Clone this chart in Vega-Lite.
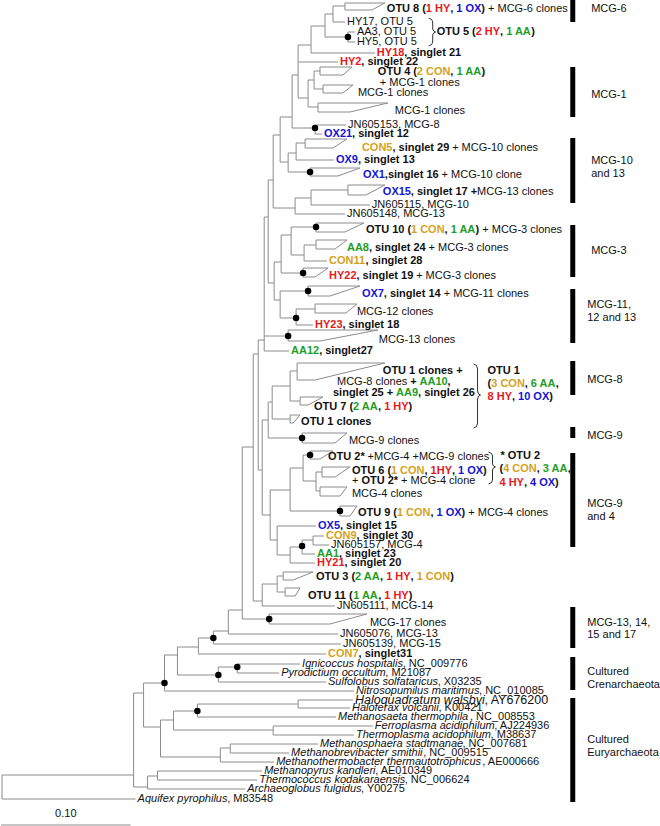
{
"$schema":"https://vega.github.io/schema/vega-lite/v6.json",
"width":660,"height":826,"padding":0,
"autosize":{"type":"fit","contains":"padding"},
"config":{"view":{"stroke":null}},
"datasets":{
"seg":[
{"x":333,"x2":333,"y":6,"y2":22},{"x":348,"x2":348,"y":32,"y2":42},{"x":325,"x2":325,"y":14,"y2":37},{"x":311,"x2":311,"y":26,"y2":53},{"x":298,"x2":298,"y":45,"y2":98},{"x":314,"x2":314,"y":71,"y2":89},{"x":308,"x2":308,"y":80,"y2":107},{"x":292,"x2":292,"y":75,"y2":128},{"x":315,"x2":315,"y":125,"y2":134},{"x":280,"x2":280,"y":117,"y2":162},{"x":296,"x2":296,"y":143,"y2":160},{"x":288,"x2":288,"y":153,"y2":172},{"x":311,"x2":311,"y":190,"y2":205},{"x":295,"x2":295,"y":198,"y2":214},{"x":273,"x2":273,"y":135,"y2":208},{"x":291,"x2":291,"y":227,"y2":255},{"x":304,"x2":304,"y":245,"y2":261},{"x":281,"x2":281,"y":235,"y2":273},{"x":280,"x2":280,"y":291,"y2":318},{"x":296,"x2":296,"y":309,"y2":325},{"x":274,"x2":274,"y":262,"y2":300},{"x":268,"x2":268,"y":180,"y2":283},{"x":264,"x2":264,"y":217,"y2":351},{"x":290,"x2":290,"y":371,"y2":401},{"x":272,"x2":272,"y":386,"y2":419},{"x":268,"x2":268,"y":402,"y2":438},{"x":316,"x2":316,"y":472,"y2":491},{"x":303,"x2":303,"y":455,"y2":481},{"x":290,"x2":290,"y":468,"y2":511},{"x":313,"x2":313,"y":536,"y2":545},{"x":302,"x2":302,"y":540,"y2":554},{"x":290,"x2":290,"y":547,"y2":563},{"x":277,"x2":277,"y":526,"y2":555},{"x":270,"x2":270,"y":490,"y2":540},{"x":262,"x2":262,"y":420,"y2":515},{"x":258,"x2":258,"y":340,"y2":470},{"x":277,"x2":277,"y":576,"y2":592},{"x":262,"x2":262,"y":584,"y2":606},{"x":253,"x2":253,"y":354,"y2":601},{"x":242,"x2":242,"y":447,"y2":619},{"x":228,"x2":228,"y":610,"y2":634},{"x":213,"x2":213,"y":631,"y2":644},{"x":198,"x2":198,"y":638,"y2":654},{"x":177,"x2":177,"y":647,"y2":675},{"x":218,"x2":218,"y":667,"y2":682},{"x":237,"x2":237,"y":664,"y2":673},{"x":164,"x2":164,"y":655,"y2":691},{"x":143,"x2":143,"y":683,"y2":727},{"x":160,"x2":160,"y":720,"y2":757},{"x":173,"x2":173,"y":711,"y2":730},{"x":197,"x2":197,"y":704,"y2":717},{"x":298,"x2":298,"y":700,"y2":708},{"x":273,"x2":273,"y":726,"y2":735},{"x":220,"x2":220,"y":748,"y2":762},{"x":230,"x2":230,"y":744,"y2":753},{"x":133,"x2":133,"y":693,"y2":787},{"x":147,"x2":147,"y":776,"y2":789},{"x":157,"x2":157,"y":771,"y2":780},{"x":1,"x2":1,"y":775,"y2":799},
{"x":333,"x2":345,"y":6,"y2":6},{"x":333,"x2":345,"y":22,"y2":22},{"x":348,"x2":355,"y":32,"y2":32},{"x":348,"x2":355,"y":42,"y2":42},{"x":325,"x2":333,"y":14,"y2":14},{"x":325,"x2":348,"y":37,"y2":37},{"x":311,"x2":325,"y":26,"y2":26},{"x":311,"x2":375,"y":53,"y2":53},{"x":298,"x2":311,"y":45,"y2":45},{"x":298,"x2":338,"y":62,"y2":62},{"x":298,"x2":308,"y":98,"y2":98},{"x":314,"x2":320,"y":71,"y2":71},{"x":314,"x2":323,"y":89,"y2":89},{"x":308,"x2":314,"y":80,"y2":80},{"x":308,"x2":318,"y":107,"y2":107},{"x":292,"x2":298,"y":75,"y2":75},{"x":292,"x2":315,"y":128,"y2":128},{"x":315,"x2":346,"y":125,"y2":125},{"x":315,"x2":322,"y":134,"y2":134},{"x":280,"x2":292,"y":117,"y2":117},{"x":280,"x2":288,"y":162,"y2":162},{"x":296,"x2":305,"y":143,"y2":143},{"x":296,"x2":334,"y":160,"y2":160},{"x":288,"x2":296,"y":153,"y2":153},{"x":288,"x2":310,"y":172,"y2":172},{"x":311,"x2":348,"y":190,"y2":190},{"x":311,"x2":370,"y":205,"y2":205},{"x":295,"x2":311,"y":198,"y2":198},{"x":295,"x2":345,"y":214,"y2":214},{"x":273,"x2":280,"y":135,"y2":135},{"x":273,"x2":295,"y":208,"y2":208},{"x":291,"x2":316,"y":227,"y2":227},{"x":291,"x2":304,"y":255,"y2":255},{"x":304,"x2":316,"y":245,"y2":245},{"x":304,"x2":327,"y":261,"y2":261},{"x":281,"x2":291,"y":235,"y2":235},{"x":281,"x2":303,"y":273,"y2":273},{"x":280,"x2":308,"y":291,"y2":291},{"x":280,"x2":296,"y":318,"y2":318},{"x":296,"x2":315,"y":309,"y2":309},{"x":296,"x2":313,"y":325,"y2":325},{"x":274,"x2":281,"y":262,"y2":262},{"x":274,"x2":280,"y":300,"y2":300},{"x":268,"x2":273,"y":180,"y2":180},{"x":268,"x2":274,"y":283,"y2":283},{"x":264,"x2":268,"y":217,"y2":217},{"x":264,"x2":288,"y":336,"y2":336},{"x":264,"x2":289,"y":351,"y2":351},{"x":290,"x2":297,"y":371,"y2":371},{"x":290,"x2":300,"y":401,"y2":401},{"x":272,"x2":290,"y":386,"y2":386},{"x":272,"x2":290,"y":419,"y2":419},{"x":268,"x2":272,"y":402,"y2":402},{"x":268,"x2":302,"y":438,"y2":438},{"x":316,"x2":322,"y":472,"y2":472},{"x":316,"x2":320,"y":491,"y2":491},{"x":303,"x2":310,"y":455,"y2":455},{"x":303,"x2":316,"y":481,"y2":481},{"x":290,"x2":303,"y":468,"y2":468},{"x":290,"x2":340,"y":511,"y2":511},{"x":313,"x2":324,"y":536,"y2":536},{"x":313,"x2":329,"y":545,"y2":545},{"x":302,"x2":313,"y":540,"y2":540},{"x":302,"x2":315,"y":554,"y2":554},{"x":290,"x2":302,"y":547,"y2":547},{"x":290,"x2":315,"y":563,"y2":563},{"x":277,"x2":316,"y":526,"y2":526},{"x":277,"x2":290,"y":555,"y2":555},{"x":270,"x2":290,"y":490,"y2":490},{"x":270,"x2":277,"y":540,"y2":540},{"x":262,"x2":268,"y":420,"y2":420},{"x":262,"x2":270,"y":515,"y2":515},{"x":258,"x2":264,"y":340,"y2":340},{"x":258,"x2":262,"y":470,"y2":470},{"x":277,"x2":283,"y":576,"y2":576},{"x":277,"x2":285,"y":592,"y2":592},{"x":262,"x2":277,"y":584,"y2":584},{"x":262,"x2":335,"y":606,"y2":606},{"x":253,"x2":258,"y":354,"y2":354},{"x":253,"x2":262,"y":601,"y2":601},{"x":242,"x2":253,"y":447,"y2":447},{"x":242,"x2":269,"y":619,"y2":619},{"x":228,"x2":242,"y":610,"y2":610},{"x":228,"x2":338,"y":634,"y2":634},{"x":213,"x2":228,"y":631,"y2":631},{"x":213,"x2":341,"y":644,"y2":644},{"x":198,"x2":213,"y":638,"y2":638},{"x":198,"x2":326,"y":654,"y2":654},{"x":177,"x2":198,"y":647,"y2":647},{"x":177,"x2":218,"y":675,"y2":675},{"x":218,"x2":237,"y":667,"y2":667},{"x":218,"x2":326,"y":682,"y2":682},{"x":237,"x2":300,"y":664,"y2":664},{"x":237,"x2":279,"y":673,"y2":673},{"x":164,"x2":177,"y":655,"y2":655},{"x":164,"x2":354,"y":691,"y2":691},{"x":143,"x2":164,"y":683,"y2":683},{"x":143,"x2":160,"y":727,"y2":727},{"x":160,"x2":173,"y":720,"y2":720},{"x":160,"x2":220,"y":757,"y2":757},{"x":173,"x2":197,"y":711,"y2":711},{"x":173,"x2":273,"y":730,"y2":730},{"x":197,"x2":298,"y":704,"y2":704},{"x":197,"x2":336,"y":717,"y2":717},{"x":298,"x2":353,"y":700,"y2":700},{"x":298,"x2":350,"y":708,"y2":708},{"x":273,"x2":373,"y":726,"y2":726},{"x":273,"x2":354,"y":735,"y2":735},{"x":220,"x2":230,"y":748,"y2":748},{"x":220,"x2":274,"y":762,"y2":762},{"x":230,"x2":318,"y":744,"y2":744},{"x":230,"x2":289,"y":753,"y2":753},{"x":133,"x2":143,"y":693,"y2":693},{"x":133,"x2":147,"y":787,"y2":787},{"x":147,"x2":157,"y":776,"y2":776},{"x":147,"x2":245,"y":789,"y2":789},{"x":157,"x2":262,"y":771,"y2":771},{"x":157,"x2":257,"y":780,"y2":780},{"x":1,"x2":133,"y":775,"y2":775},{"x":1,"x2":135,"y":799,"y2":799}
],
"tri":[
{"id":"otu8","o":0,"x":345,"y":3},{"id":"otu8","o":1,"x":385,"y":3},{"id":"otu8","o":2,"x":372,"y":10},{"id":"otu8","o":3,"x":345,"y":10},{"id":"otu8","o":4,"x":345,"y":3},
{"id":"otu4","o":0,"x":320,"y":67},{"id":"otu4","o":1,"x":352,"y":67},{"id":"otu4","o":2,"x":343,"y":75},{"id":"otu4","o":3,"x":320,"y":75},{"id":"otu4","o":4,"x":320,"y":67},
{"id":"m1a","o":0,"x":323,"y":85},{"id":"m1a","o":1,"x":353,"y":85},{"id":"m1a","o":2,"x":343,"y":93},{"id":"m1a","o":3,"x":323,"y":93},{"id":"m1a","o":4,"x":323,"y":85},
{"id":"m1b","o":0,"x":318,"y":103},{"id":"m1b","o":1,"x":388,"y":103},{"id":"m1b","o":2,"x":350,"y":112},{"id":"m1b","o":3,"x":318,"y":112},{"id":"m1b","o":4,"x":318,"y":103},
{"id":"con5","o":0,"x":305,"y":139},{"id":"con5","o":1,"x":347,"y":139},{"id":"con5","o":2,"x":333,"y":148},{"id":"con5","o":3,"x":305,"y":148},{"id":"con5","o":4,"x":305,"y":139},
{"id":"ox1","o":0,"x":310,"y":168},{"id":"ox1","o":1,"x":360,"y":168},{"id":"ox1","o":2,"x":338,"y":176},{"id":"ox1","o":3,"x":310,"y":176},{"id":"ox1","o":4,"x":310,"y":168},
{"id":"ox15","o":0,"x":348,"y":185},{"id":"ox15","o":1,"x":385,"y":185},{"id":"ox15","o":2,"x":366,"y":195},{"id":"ox15","o":3,"x":348,"y":195},{"id":"ox15","o":4,"x":348,"y":185},
{"id":"otu10","o":0,"x":316,"y":223},{"id":"otu10","o":1,"x":364,"y":223},{"id":"otu10","o":2,"x":345,"y":232},{"id":"otu10","o":3,"x":316,"y":232},{"id":"otu10","o":4,"x":316,"y":223},
{"id":"aa8","o":0,"x":316,"y":240},{"id":"aa8","o":1,"x":347,"y":240},{"id":"aa8","o":2,"x":335,"y":249},{"id":"aa8","o":3,"x":316,"y":249},{"id":"aa8","o":4,"x":316,"y":240},
{"id":"hy22","o":0,"x":303,"y":268},{"id":"hy22","o":1,"x":328,"y":268},{"id":"hy22","o":2,"x":315,"y":277},{"id":"hy22","o":3,"x":303,"y":277},{"id":"hy22","o":4,"x":303,"y":268},
{"id":"ox7","o":0,"x":308,"y":286},{"id":"ox7","o":1,"x":360,"y":286},{"id":"ox7","o":2,"x":330,"y":296},{"id":"ox7","o":3,"x":308,"y":296},{"id":"ox7","o":4,"x":308,"y":286},
{"id":"m12","o":0,"x":315,"y":304},{"id":"m12","o":1,"x":357,"y":304},{"id":"m12","o":2,"x":346,"y":313},{"id":"m12","o":3,"x":315,"y":313},{"id":"m12","o":4,"x":315,"y":304},
{"id":"m13","o":0,"x":288,"y":330},{"id":"m13","o":1,"x":378,"y":330},{"id":"m13","o":2,"x":320,"y":341},{"id":"m13","o":3,"x":288,"y":341},{"id":"m13","o":4,"x":288,"y":330},
{"id":"otu1a","o":0,"x":297,"y":363},{"id":"otu1a","o":1,"x":385,"y":363},{"id":"otu1a","o":2,"x":315,"y":380},{"id":"otu1a","o":3,"x":297,"y":380},{"id":"otu1a","o":4,"x":297,"y":363},
{"id":"otu7","o":0,"x":300,"y":397},{"id":"otu7","o":1,"x":323,"y":397},{"id":"otu7","o":2,"x":308,"y":405},{"id":"otu7","o":3,"x":300,"y":405},{"id":"otu7","o":4,"x":300,"y":397},
{"id":"otu1b","o":0,"x":290,"y":415},{"id":"otu1b","o":1,"x":300,"y":415},{"id":"otu1b","o":2,"x":293,"y":423},{"id":"otu1b","o":3,"x":290,"y":423},{"id":"otu1b","o":4,"x":290,"y":415},
{"id":"m9","o":0,"x":302,"y":433},{"id":"m9","o":1,"x":347,"y":433},{"id":"m9","o":2,"x":335,"y":443},{"id":"m9","o":3,"x":302,"y":443},{"id":"m9","o":4,"x":302,"y":433},
{"id":"otu2","o":0,"x":310,"y":451},{"id":"otu2","o":1,"x":333,"y":451},{"id":"otu2","o":2,"x":320,"y":459},{"id":"otu2","o":3,"x":310,"y":459},{"id":"otu2","o":4,"x":310,"y":451},
{"id":"otu6","o":0,"x":322,"y":467},{"id":"otu6","o":1,"x":350,"y":467},{"id":"otu6","o":2,"x":335,"y":477},{"id":"otu6","o":3,"x":322,"y":477},{"id":"otu6","o":4,"x":322,"y":467},
{"id":"m4","o":0,"x":320,"y":487},{"id":"m4","o":1,"x":347,"y":487},{"id":"m4","o":2,"x":340,"y":496},{"id":"m4","o":3,"x":320,"y":496},{"id":"m4","o":4,"x":320,"y":487},
{"id":"otu9","o":0,"x":340,"y":506},{"id":"otu9","o":1,"x":357,"y":506},{"id":"otu9","o":2,"x":350,"y":516},{"id":"otu9","o":3,"x":340,"y":516},{"id":"otu9","o":4,"x":340,"y":506},
{"id":"otu3","o":0,"x":283,"y":572},{"id":"otu3","o":1,"x":313,"y":572},{"id":"otu3","o":2,"x":293,"y":580},{"id":"otu3","o":3,"x":283,"y":580},{"id":"otu3","o":4,"x":283,"y":572},
{"id":"otu11","o":0,"x":285,"y":588},{"id":"otu11","o":1,"x":300,"y":588},{"id":"otu11","o":2,"x":295,"y":596},{"id":"otu11","o":3,"x":285,"y":596},{"id":"otu11","o":4,"x":285,"y":588},
{"id":"m17","o":0,"x":269,"y":614},{"id":"m17","o":1,"x":367,"y":614},{"id":"m17","o":2,"x":330,"y":624},{"id":"m17","o":3,"x":269,"y":624},{"id":"m17","o":4,"x":269,"y":614}
],
"br":[
{"id":"b5","o":0,"x":429,"y":18},{"id":"b5","o":1,"x":432,"y":19.5},{"id":"b5","o":2,"x":433,"y":22},{"id":"b5","o":3,"x":433,"y":29},{"id":"b5","o":4,"x":434,"y":31},{"id":"b5","o":5,"x":436,"y":32},{"id":"b5","o":6,"x":434,"y":33},{"id":"b5","o":7,"x":433,"y":35},{"id":"b5","o":8,"x":433,"y":42},{"id":"b5","o":9,"x":432,"y":44.5},{"id":"b5","o":10,"x":429,"y":46},
{"id":"b1","o":0,"x":474,"y":364},{"id":"b1","o":1,"x":477,"y":365.5},{"id":"b1","o":2,"x":478,"y":369},{"id":"b1","o":3,"x":478,"y":391},{"id":"b1","o":4,"x":479,"y":394},{"id":"b1","o":5,"x":481,"y":395},{"id":"b1","o":6,"x":479,"y":396},{"id":"b1","o":7,"x":478,"y":399},{"id":"b1","o":8,"x":478,"y":423},{"id":"b1","o":9,"x":477,"y":426.5},{"id":"b1","o":10,"x":474,"y":428},
{"id":"b2","o":0,"x":489,"y":452},{"id":"b2","o":1,"x":492,"y":453.5},{"id":"b2","o":2,"x":493,"y":456},{"id":"b2","o":3,"x":493,"y":464},{"id":"b2","o":4,"x":494,"y":466},{"id":"b2","o":5,"x":496,"y":467},{"id":"b2","o":6,"x":494,"y":468},{"id":"b2","o":7,"x":493,"y":470},{"id":"b2","o":8,"x":493,"y":480},{"id":"b2","o":9,"x":492,"y":482.5},{"id":"b2","o":10,"x":489,"y":484}
],
"bar":[
{"grp":"MCG-6","y":0,"y2":22},{"grp":"MCG-1","y":67,"y2":117},{"grp":"MCG-10 and 13","y":138,"y2":203},{"grp":"MCG-3","y":225,"y2":277},{"grp":"MCG-11, 12 and 13","y":289,"y2":343},{"grp":"MCG-8","y":361,"y2":395},{"grp":"MCG-9","y":427,"y2":438},{"grp":"MCG-9 and 4","y":453,"y2":547},{"grp":"MCG-13, 14, 15 and 17","y":607,"y2":648},{"grp":"Cultured Crenarchaeota","y":657,"y2":690},{"grp":"Cultured Euryarchaeota","y":698,"y2":802}
],
"dot":[
{"x":348,"y":37},{"x":315,"y":128},{"x":310,"y":172},{"x":316,"y":227},{"x":303,"y":273},{"x":308,"y":291},{"x":296,"y":318},{"x":288,"y":336},{"x":302,"y":438},{"x":310,"y":455},{"x":340,"y":511},{"x":302,"y":546},{"x":269,"y":619},{"x":213,"y":638},{"x":218,"y":675},{"x":237,"y":667},{"x":164,"y":683},{"x":197,"y":711}
],
"txt":[
{"x":387,"y":9,"t":"OTU 8 (","g":"none","r":"otu"},{"x":426.1,"y":9,"t":"1 HY","g":"HY","r":"otu"},{"x":450.6,"y":9,"t":",","g":"none","r":"otu"},{"x":456.7,"y":9,"t":"1 OX","g":"OX","r":"otu"},{"x":481.8,"y":9,"t":")","g":"none","r":"otu"},{"x":488.5,"y":9,"t":"+ MCG-6 clones","g":"none","r":"ref"},
{"x":347,"y":22,"t":"HY17, OTU 5","g":"none","r":"ref"},{"x":357,"y":32,"t":"AA3, OTU 5","g":"none","r":"ref"},{"x":357,"y":42,"t":"HY5, OTU 5","g":"none","r":"ref"},
{"x":437,"y":32,"t":"OTU 5 (","g":"none","r":"otu"},{"x":476.1,"y":32,"t":"2 HY","g":"HY","r":"otu"},{"x":500.6,"y":32,"t":",","g":"none","r":"otu"},{"x":506.7,"y":32,"t":"1 AA","g":"AA","r":"otu"},{"x":531.8,"y":32,"t":")","g":"none","r":"otu"},
{"x":377,"y":53,"t":"HY18","g":"HY","r":"otu"},{"x":404.5,"y":53,"t":", singlet 21","g":"none","r":"otu"},
{"x":340,"y":62,"t":"HY2","g":"HY","r":"otu"},{"x":361.4,"y":62,"t":", singlet 22","g":"none","r":"otu"},
{"x":378,"y":72,"t":"OTU 4 (","g":"none","r":"otu"},{"x":417.1,"y":72,"t":"2 CON","g":"CON","r":"otu"},{"x":450.7,"y":72,"t":",","g":"none","r":"otu"},{"x":456.9,"y":72,"t":"1 AA","g":"AA","r":"otu"},{"x":481.9,"y":72,"t":")","g":"none","r":"otu"},
{"x":380,"y":83,"t":"+ MCG-1 clones","g":"none","r":"ref"},{"x":358,"y":93,"t":"MCG-1 clones","g":"none","r":"ref"},{"x":395,"y":111,"t":"MCG-1 clones","g":"none","r":"ref"},{"x":348,"y":125,"t":"JN605153, MCG-8","g":"none","r":"ref"},
{"x":324,"y":134,"t":"OX21","g":"OX","r":"otu"},{"x":352.1,"y":134,"t":", singlet 12","g":"none","r":"otu"},
{"x":362,"y":148,"t":"CON5","g":"CON","r":"otu"},{"x":392.6,"y":148,"t":", singlet 29","g":"none","r":"otu"},{"x":452.5,"y":148,"t":"+ MCG-10 clones","g":"none","r":"ref"},
{"x":336,"y":160,"t":"OX9","g":"OX","r":"otu"},{"x":358,"y":160,"t":", singlet 13","g":"none","r":"otu"},
{"x":363,"y":175,"t":"OX1","g":"OX","r":"otu"},{"x":385,"y":175,"t":",singlet 16","g":"none","r":"otu"},{"x":441.9,"y":175,"t":"+ MCG-10 clone","g":"none","r":"ref"},
{"x":383,"y":192,"t":"OX15","g":"OX","r":"otu"},{"x":411.1,"y":192,"t":", singlet 17 +","g":"none","r":"otu"},{"x":477.5,"y":192,"t":"MCG-13 clones","g":"none","r":"ref"},
{"x":372,"y":205,"t":"JN605115, MCG-10","g":"none","r":"ref"},{"x":347,"y":214,"t":"JN605148, MCG-13","g":"none","r":"ref"},
{"x":366,"y":230,"t":"OTU 10 (","g":"none","r":"otu"},{"x":411.2,"y":230,"t":"1 CON","g":"CON","r":"otu"},{"x":444.9,"y":230,"t":",","g":"none","r":"otu"},{"x":451,"y":230,"t":"1 AA","g":"AA","r":"otu"},{"x":476,"y":230,"t":")","g":"none","r":"otu"},{"x":482.7,"y":230,"t":"+ MCG-3 clones","g":"none","r":"ref"},
{"x":347,"y":248,"t":"AA8","g":"AA","r":"otu"},{"x":369,"y":248,"t":", singlet 24","g":"none","r":"otu"},{"x":428.9,"y":248,"t":"+ MCG-3 clones","g":"none","r":"ref"},
{"x":329,"y":261,"t":"CON11","g":"CON","r":"otu"},{"x":365.7,"y":261,"t":", singlet 28","g":"none","r":"otu"},
{"x":329,"y":276,"t":"HY22","g":"HY","r":"otu"},{"x":356.5,"y":276,"t":", singlet 19","g":"none","r":"otu"},{"x":416.4,"y":276,"t":"+ MCG-3 clones","g":"none","r":"ref"},
{"x":362,"y":294,"t":"OX7","g":"OX","r":"otu"},{"x":384,"y":294,"t":", singlet 14","g":"none","r":"otu"},{"x":444,"y":294,"t":"+ MCG-11 clones","g":"none","r":"ref"},
{"x":357,"y":312,"t":"MCG-12 clones","g":"none","r":"ref"},
{"x":315,"y":325,"t":"HY23","g":"HY","r":"otu"},{"x":342.5,"y":325,"t":", singlet 18","g":"none","r":"otu"},
{"x":379,"y":340,"t":"MCG-13 clones","g":"none","r":"ref"},
{"x":291,"y":351,"t":"AA12","g":"AA","r":"otu"},{"x":319.1,"y":351,"t":", singlet27","g":"none","r":"otu"},
{"x":383,"y":371,"t":"OTU 1 clones +","g":"none","r":"otu"},
{"x":337,"y":382,"t":"MCG-8 clones","g":"none","r":"ref"},{"x":410.4,"y":382,"t":"+","g":"none","r":"otu"},{"x":419.8,"y":382,"t":"AA10","g":"AA","r":"otu"},{"x":447.9,"y":382,"t":",","g":"none","r":"otu"},
{"x":333,"y":393,"t":"singlet 25 +","g":"none","r":"otu"},{"x":396.3,"y":393,"t":"AA9","g":"AA","r":"otu"},{"x":418.3,"y":393,"t":", singlet 26","g":"none","r":"otu"},
{"x":314,"y":407,"t":"OTU 7 (","g":"none","r":"otu"},{"x":353.1,"y":407,"t":"2 AA","g":"AA","r":"otu"},{"x":378.2,"y":407,"t":",","g":"none","r":"otu"},{"x":384.3,"y":407,"t":"1 HY","g":"HY","r":"otu"},{"x":408.7,"y":407,"t":")","g":"none","r":"otu"},
{"x":301,"y":422,"t":"OTU 1 clones","g":"none","r":"otu"},
{"x":349,"y":441,"t":"MCG-9 clones","g":"none","r":"ref"},
{"x":328,"y":457,"t":"OTU 2*","g":"none","r":"otu"},{"x":367.7,"y":457,"t":"+MCG-4 +MCG-9 clones","g":"none","r":"ref"},
{"x":352,"y":471,"t":"OTU 6 (","g":"none","r":"otu"},{"x":391.1,"y":471,"t":"1 CON","g":"CON","r":"otu"},{"x":424.7,"y":471,"t":",","g":"none","r":"otu"},{"x":430.9,"y":471,"t":"1HY","g":"HY","r":"otu"},{"x":452.3,"y":471,"t":",","g":"none","r":"otu"},{"x":458.4,"y":471,"t":"1 OX","g":"OX","r":"otu"},{"x":483.5,"y":471,"t":")","g":"none","r":"otu"},
{"x":352,"y":481,"t":"+","g":"none","r":"ref"},{"x":361.5,"y":481,"t":"OTU 2*","g":"none","r":"otu"},{"x":401.3,"y":481,"t":"+ MCG-4 clone","g":"none","r":"ref"},
{"x":352,"y":494,"t":"MCG-4 clones","g":"none","r":"ref"},
{"x":358,"y":513,"t":"OTU 9 (","g":"none","r":"otu"},{"x":397.1,"y":513,"t":"1 CON","g":"CON","r":"otu"},{"x":430.7,"y":513,"t":",","g":"none","r":"otu"},{"x":436.9,"y":513,"t":"1 OX","g":"OX","r":"otu"},{"x":461.9,"y":513,"t":")","g":"none","r":"otu"},{"x":468.7,"y":513,"t":"+ MCG-4 clones","g":"none","r":"ref"},
{"x":318,"y":526,"t":"OX5","g":"OX","r":"otu"},{"x":340,"y":526,"t":", singlet 15","g":"none","r":"otu"},
{"x":326,"y":536,"t":"CON9","g":"CON","r":"otu"},{"x":356.6,"y":536,"t":", singlet 30","g":"none","r":"otu"},
{"x":331,"y":545,"t":"JN605157, MCG-4","g":"none","r":"ref"},
{"x":317,"y":554,"t":"AA1","g":"AA","r":"otu"},{"x":339,"y":554,"t":", singlet 23","g":"none","r":"otu"},
{"x":317,"y":563,"t":"HY21","g":"HY","r":"otu"},{"x":344.5,"y":563,"t":", singlet 20","g":"none","r":"otu"},
{"x":316,"y":577,"t":"OTU 3 (","g":"none","r":"otu"},{"x":355.1,"y":577,"t":"2 AA","g":"AA","r":"otu"},{"x":380.2,"y":577,"t":",","g":"none","r":"otu"},{"x":386.3,"y":577,"t":"1 HY","g":"HY","r":"otu"},{"x":410.8,"y":577,"t":",","g":"none","r":"otu"},{"x":416.9,"y":577,"t":"1 CON","g":"CON","r":"otu"},{"x":450.5,"y":577,"t":")","g":"none","r":"otu"},
{"x":308,"y":596,"t":"OTU 11 (","g":"none","r":"otu"},{"x":353.2,"y":596,"t":"1 AA","g":"AA","r":"otu"},{"x":378.3,"y":596,"t":",","g":"none","r":"otu"},{"x":384.4,"y":596,"t":"1 HY","g":"HY","r":"otu"},{"x":408.9,"y":596,"t":")","g":"none","r":"otu"},
{"x":337,"y":606,"t":"JN605111, MCG-14","g":"none","r":"ref"},{"x":370,"y":623,"t":"MCG-17 clones","g":"none","r":"ref"},{"x":340,"y":634,"t":"JN605076, MCG-13","g":"none","r":"ref"},{"x":343,"y":644,"t":"JN605139, MCG-15","g":"none","r":"ref"},
{"x":328,"y":654,"t":"CON7","g":"CON","r":"otu"},{"x":358.6,"y":654,"t":", singlet31","g":"none","r":"otu"},
{"x":302,"y":664,"t":"Ignicoccus hospitalis","g":"none","r":"sp"},{"x":402.9,"y":664,"t":", NC_009776","g":"none","r":"ref"},
{"x":281,"y":673,"t":"Pyrodictium occultum","g":"none","r":"sp"},{"x":385.5,"y":673,"t":", M21087","g":"none","r":"ref"},
{"x":328,"y":682,"t":"Sulfolobus solfataricus","g":"none","r":"sp"},{"x":438,"y":682,"t":", X03235","g":"none","r":"ref"},
{"x":356,"y":691,"t":"Nitrosopumilus maritimus","g":"none","r":"sp"},{"x":479.5,"y":691,"t":", NC_010085","g":"none","r":"ref"},
{"x":355,"y":700,"t":"Haloquadratum walsbyi","g":"none","r":"spL"},{"x":484.9,"y":700,"t":", AY676200","g":"none","r":"refL"},
{"x":352,"y":708,"t":"Haloferax volcanii","g":"none","r":"sp"},{"x":438.8,"y":708,"t":", K00421","g":"none","r":"ref"},
{"x":338,"y":717,"t":"Methanosaeta thermophila","g":"none","r":"sp"},{"x":470.4,"y":717,"t":", NC_008553","g":"none","r":"ref"},
{"x":375,"y":726,"t":"Ferroplasma acidiphilum","g":"none","r":"sp"},{"x":494.8,"y":726,"t":", AJ224936","g":"none","r":"ref"},
{"x":356,"y":735,"t":"Thermoplasma acidophilum","g":"none","r":"sp"},{"x":491.1,"y":735,"t":", M38637","g":"none","r":"ref"},
{"x":320,"y":744,"t":"Methanosphaera stadtmanae","g":"none","r":"sp"},{"x":462.9,"y":744,"t":", NC_007681","g":"none","r":"ref"},
{"x":291,"y":753,"t":"Methanobrevibacter smithii","g":"none","r":"sp"},{"x":423.5,"y":753,"t":", NC_009515","g":"none","r":"ref"},
{"x":276,"y":762,"t":"Methanothermobacter thermautotrophicus","g":"none","r":"sp"},{"x":482.8,"y":762,"t":", AE000666","g":"none","r":"ref"},
{"x":264,"y":771,"t":"Methanopyrus kandleri","g":"none","r":"sp"},{"x":375.3,"y":771,"t":", AE010349","g":"none","r":"ref"},
{"x":259,"y":780,"t":"Thermococcus kodakaraensis","g":"none","r":"sp"},{"x":404.9,"y":780,"t":", NC_006624","g":"none","r":"ref"},
{"x":247,"y":789,"t":"Archaeoglobus fulgidus","g":"none","r":"sp"},{"x":361.1,"y":789,"t":", Y00275","g":"none","r":"ref"},
{"x":137,"y":799,"t":"Aquifex pyrophilus","g":"none","r":"sp"},{"x":226.9,"y":799,"t":", M83548","g":"none","r":"ref"},
{"x":488,"y":371,"t":"OTU 1","g":"none","r":"otu"},
{"x":488,"y":384,"t":"(","g":"none","r":"otu"},{"x":491.7,"y":384,"t":"3 CON","g":"CON","r":"otu"},{"x":525.3,"y":384,"t":",","g":"none","r":"otu"},{"x":531.4,"y":384,"t":"6 AA","g":"AA","r":"otu"},{"x":556.4,"y":384,"t":",","g":"none","r":"otu"},
{"x":488,"y":397,"t":"8 HY","g":"HY","r":"otu"},{"x":512.5,"y":397,"t":",","g":"none","r":"otu"},{"x":518.6,"y":397,"t":"10 OX","g":"OX","r":"otu"},{"x":549.8,"y":397,"t":")","g":"none","r":"otu"},
{"x":501,"y":456,"t":"* OTU 2","g":"none","r":"otu"},
{"x":500,"y":469,"t":"(","g":"none","r":"otu"},{"x":503.7,"y":469,"t":"4 CON","g":"CON","r":"otu"},{"x":537.3,"y":469,"t":",","g":"none","r":"otu"},{"x":543.4,"y":469,"t":"3 AA","g":"AA","r":"otu"},{"x":568.5,"y":469,"t":",","g":"none","r":"otu"},
{"x":500,"y":483,"t":"4 HY","g":"HY","r":"otu"},{"x":524.5,"y":483,"t":",","g":"none","r":"otu"},{"x":530.6,"y":483,"t":"4 OX","g":"OX","r":"otu"},{"x":555.7,"y":483,"t":")","g":"none","r":"otu"},
{"x":592,"y":9,"t":"MCG-6","g":"none","r":"ref"},{"x":592,"y":95,"t":"MCG-1","g":"none","r":"ref"},{"x":592,"y":161,"t":"MCG-10","g":"none","r":"ref"},{"x":592,"y":174,"t":"and 13","g":"none","r":"ref"},{"x":592,"y":251,"t":"MCG-3","g":"none","r":"ref"},{"x":588,"y":305,"t":"MCG-11,","g":"none","r":"ref"},{"x":588,"y":318,"t":"12 and 13","g":"none","r":"ref"},{"x":588,"y":380,"t":"MCG-8","g":"none","r":"ref"},{"x":588,"y":436,"t":"MCG-9","g":"none","r":"ref"},{"x":588,"y":504,"t":"MCG-9","g":"none","r":"ref"},{"x":588,"y":517,"t":"and 4","g":"none","r":"ref"},{"x":588,"y":623,"t":"MCG-13, 14,","g":"none","r":"ref"},{"x":588,"y":635,"t":"15 and 17","g":"none","r":"ref"},{"x":588,"y":672,"t":"Cultured","g":"none","r":"ref"},{"x":588,"y":685,"t":"Crenarchaeota","g":"none","r":"ref"},{"x":588,"y":740,"t":"Cultured","g":"none","r":"ref"},{"x":588,"y":753,"t":"Euryarchaeota","g":"none","r":"ref"}
],
"sbar":[{"x":0,"x2":130,"y":825,"label":"0.10","mid":65,"ty":814}]
},
"layer":[
{"data":{"name":"seg"},"mark":{"type":"rule","color":"#8c8c8c","strokeWidth":1},
"encoding":{"x":{"field":"x","type":"quantitative","scale":{"domain":[0,660],"nice":false,"zero":false},"axis":null},"x2":{"field":"x2"},"y":{"field":"y","type":"quantitative","scale":{"domain":[0,826],"reverse":true,"nice":false,"zero":false},"axis":null},"y2":{"field":"y2"}}},
{"data":{"name":"tri"},"mark":{"type":"line","color":"#8c8c8c","strokeWidth":1},
"encoding":{"x":{"field":"x","type":"quantitative","axis":null},"y":{"field":"y","type":"quantitative","axis":null},"detail":{"field":"id"},"order":{"field":"o","type":"quantitative"}}},
{"data":{"name":"br"},"mark":{"type":"line","color":"#333333","strokeWidth":1},
"encoding":{"x":{"field":"x","type":"quantitative","axis":null},"y":{"field":"y","type":"quantitative","axis":null},"detail":{"field":"id"},"order":{"field":"o","type":"quantitative"}}},
{"data":{"name":"bar"},"mark":{"type":"rect","color":"#000000"},
"encoding":{"x":{"datum":571,"type":"quantitative","axis":null},"x2":{"datum":576},"y":{"field":"y","type":"quantitative","axis":null},"y2":{"field":"y2"}}},
{"data":{"name":"dot"},"mark":{"type":"point","filled":true,"color":"#000000","size":42,"opacity":1},
"encoding":{"x":{"field":"x","type":"quantitative","axis":null},"y":{"field":"y","type":"quantitative","axis":null}}},
{"data":{"name":"sbar"},"mark":{"type":"rule","color":"#8c8c8c","strokeWidth":1},
"encoding":{"x":{"field":"x","type":"quantitative","axis":null},"x2":{"field":"x2"},"y":{"field":"y","type":"quantitative","axis":null}}},
{"data":{"name":"sbar"},"mark":{"type":"text","font":"Liberation Sans","fontSize":11,"color":"#111111","align":"center","baseline":"middle"},
"encoding":{"x":{"field":"mid","type":"quantitative","axis":null},"y":{"field":"ty","type":"quantitative","axis":null},"text":{"field":"label"}}},
{"data":{"name":"txt"},"transform":[{"filter":"datum.r=='ref'"}],"mark":{"type":"text","font":"Liberation Sans","fontSize":11,"align":"left","baseline":"middle"},
"encoding":{"x":{"field":"x","type":"quantitative","axis":null},"y":{"field":"y","type":"quantitative","axis":null},"text":{"field":"t"},"color":{"field":"g","type":"nominal","legend":null,"scale":{"domain":["none","HY","OX","CON","AA"],"range":["#111111","#e8191c","#1414d4","#d4a21c","#1f9e1f"]}}}},
{"data":{"name":"txt"},"transform":[{"filter":"datum.r=='otu'"}],"mark":{"type":"text","font":"Liberation Sans","fontSize":11,"fontWeight":"bold","align":"left","baseline":"middle"},
"encoding":{"x":{"field":"x","type":"quantitative","axis":null},"y":{"field":"y","type":"quantitative","axis":null},"text":{"field":"t"},"color":{"field":"g","type":"nominal","legend":null,"scale":{"domain":["none","HY","OX","CON","AA"],"range":["#111111","#e8191c","#1414d4","#d4a21c","#1f9e1f"]}}}},
{"data":{"name":"txt"},"transform":[{"filter":"datum.r=='sp'"}],"mark":{"type":"text","font":"Liberation Sans","fontSize":11,"fontStyle":"italic","align":"left","baseline":"middle","color":"#111111"},
"encoding":{"x":{"field":"x","type":"quantitative","axis":null},"y":{"field":"y","type":"quantitative","axis":null},"text":{"field":"t"}}},
{"data":{"name":"txt"},"transform":[{"filter":"datum.r=='spL'"}],"mark":{"type":"text","font":"Liberation Sans","fontSize":12.5,"fontStyle":"italic","align":"left","baseline":"middle","color":"#111111"},
"encoding":{"x":{"field":"x","type":"quantitative","axis":null},"y":{"field":"y","type":"quantitative","axis":null},"text":{"field":"t"}}},
{"data":{"name":"txt"},"transform":[{"filter":"datum.r=='refL'"}],"mark":{"type":"text","font":"Liberation Sans","fontSize":12.5,"align":"left","baseline":"middle","color":"#111111"},
"encoding":{"x":{"field":"x","type":"quantitative","axis":null},"y":{"field":"y","type":"quantitative","axis":null},"text":{"field":"t"}}}
]
}
